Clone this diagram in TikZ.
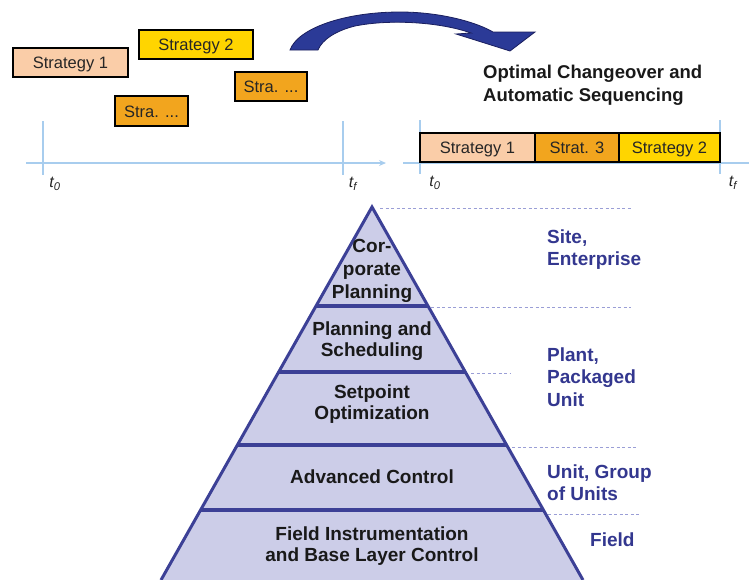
\documentclass[tikz,border=0pt]{standalone}
\usepackage{fontspec}
\setmainfont{Liberation Sans}
\usetikzlibrary{arrows.meta,calc}
\definecolor{peach}{HTML}{FACDA8}
\definecolor{yel}{HTML}{FFD500}
\definecolor{orng}{HTML}{F2A51E}
\definecolor{axisblue}{HTML}{A8CDEE}
\definecolor{pyrfill}{HTML}{CCCDE8}
\definecolor{pyrline}{HTML}{3C4096}
\definecolor{lblblue}{HTML}{33378F}
\definecolor{dashcol}{HTML}{9A9ED6}
\definecolor{arrowblue}{HTML}{2B3A97}
\definecolor{arrowdark}{HTML}{1A1F5E}
\tikzset{
  stratbox/.style={draw=black, line width=1.3, minimum height=29, inner sep=0,
    text height=12, text depth=0,
    font=\fontsize{16.5}{19}\selectfont, text=black!85},
  axisline/.style={draw=axisblue, line width=1.8},
  tlabel/.style={font=\fontsize{16}{18}\selectfont\itshape, text=black!85, inner sep=0},
  pyrtext/.style={font=\fontsize{19}{21}\selectfont\bfseries, text=black!90, align=center, inner sep=0},
  sidelabel/.style={font=\fontsize{19}{22.5}\selectfont\bfseries, text=lblblue, align=left, inner sep=0, anchor=west},
  guide/.style={draw=dashcol, line width=1, dash pattern=on 3pt off 2.5pt},
  divider/.style={draw=pyrline, line width=4},
}
\begin{document}
\begin{tikzpicture}[x=1pt,y=-1pt]
\useasboundingbox (0,0) rectangle (749,579);

% ---------- left timeline ----------
\coordinate (la0) at (26,163);
\coordinate (la1) at (386,163);
\draw[axisline,-{Stealth[length=7,width=6]}] (la0) -- (la1);
\coordinate (lt0a) at (43,121); \coordinate (lt0b) at (43,175);
\coordinate (ltfa) at (343,121); \coordinate (ltfb) at (343,175);
\draw[axisline] (lt0a) -- (lt0b);
\draw[axisline] (ltfa) -- (ltfb);
\node[tlabel] (lt0) at (55,184) {t\textsubscript{0}};
\node[tlabel] (ltf) at (353,184) {t\textsubscript{f}};

\node[stratbox, fill=peach, minimum width=115] (s1) at (70.5,62.5) {Strategy 1};
\node[stratbox, fill=yel, minimum width=114] (s2) at (196,44.5) {Strategy 2};
\node[stratbox, fill=orng, minimum width=73, minimum height=30] (s3) at (151.5,111) {Stra. ...};
\node[stratbox, fill=orng, minimum width=72] (s4) at (271,86.5) {Stra. ...};

% ---------- curved arrow ----------
\filldraw[fill=arrowblue, draw=arrowdark, line width=0.8]
  (290,50) .. controls (298,28) and (345,12) .. (400,12)
  .. controls (440,12) and (476,22) .. (493,32)
  -- (535,32) -- (510,51) -- (456,34) -- (471,33)
  .. controls (440,22) and (390,19) .. (355,26)
  .. controls (335,31) and (322,40) .. (318,50) -- cycle;

% ---------- right timeline ----------
\node[font=\fontsize{18.5}{23}\selectfont\bfseries, text=black!90, align=left, anchor=west, inner sep=0]
  (title) at (483,85) {Optimal Changeover and\\Automatic Sequencing};
\coordinate (ra0) at (403,163);
\coordinate (ra1) at (749,163);
\draw[axisline] (ra0) -- (ra1);
\coordinate (rt0a) at (420,120); \coordinate (rt0b) at (420,174);
\coordinate (rtfa) at (720,120); \coordinate (rtfb) at (720,174);
\draw[axisline] (rt0a) -- (rt0b);
\draw[axisline] (rtfa) -- (rtfb);
\node[stratbox, fill=peach, minimum width=115] (r1) at (477.5,147.5) {Strategy 1};
\node[stratbox, fill=orng, minimum width=84] (r2) at (577,147.5) {Strat. 3};
\node[stratbox, fill=yel, minimum width=101] (r3) at (669.5,147.5) {Strategy 2};
\node[tlabel] (rt0) at (435,183) {t\textsubscript{0}};
\node[tlabel] (rtf) at (733,183) {t\textsubscript{f}};

% ---------- pyramid ----------
\coordinate (apex) at (372,207);
\coordinate (bl) at (161,580);
\coordinate (br) at (583,580);
\fill[pyrfill] (apex) -- (br) -- (bl) -- cycle;
\draw[divider] (316,306) -- (428,306);
\draw[divider] (278.6,372) -- (465.4,372);
\draw[divider] (237.3,445) -- (506.7,445);
\draw[divider] (200.5,510) -- (543.5,510);
\draw[draw=pyrline, line width=3, line join=miter] (bl) -- (apex) -- (br);

\node[pyrtext, font=\fontsize{19}{23}\selectfont\bfseries] (p1) at (372,271) {Cor-\\porate\\Planning};
\node[pyrtext] (p2) at (372,341) {Planning and\\Scheduling};
\node[pyrtext] (p3) at (372,404) {Setpoint\\Optimization};
\node[pyrtext] (p4) at (372,477) {Advanced Control};
\node[pyrtext] (p5) at (372,546) {Field Instrumentation\\and Base Layer Control};

% guide lines
\draw[guide] (380,208) -- (631,208);
\draw[guide] (431,307) -- (631,307);
\draw[guide] (471,373) -- (511,373);
\draw[guide] (512,447) -- (638,447);
\draw[guide] (548,514) -- (640,514);

\node[sidelabel] (l1) at (547,249.5) {Site,\\Enterprise};
\node[sidelabel] (l2) at (547,377) {Plant,\\Packaged\\Unit};
\node[sidelabel, font=\fontsize{19}{21.5}\selectfont\bfseries] (l3) at (547,482.5) {Unit, Group\\of Units};
\node[sidelabel] (l4) at (590,540) {Field};
\end{tikzpicture}
\end{document}
